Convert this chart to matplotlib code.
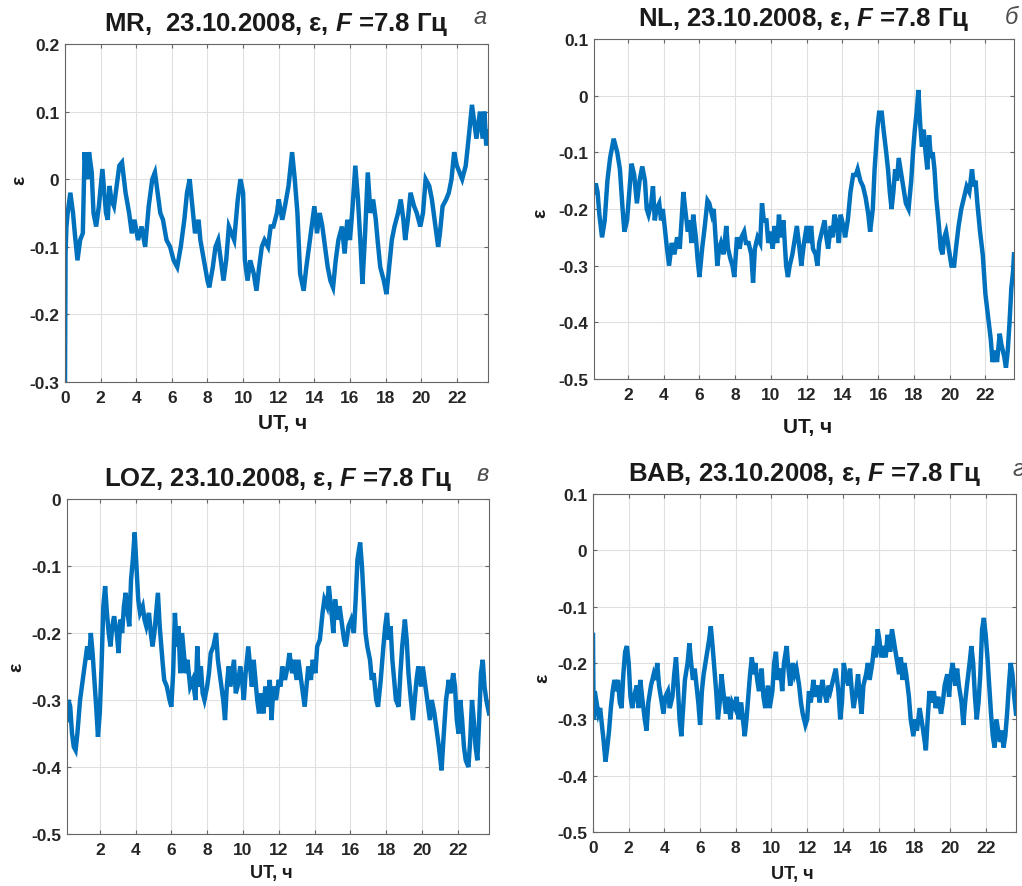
import matplotlib
matplotlib.use("Agg")
import matplotlib.pyplot as plt

plt.rcParams['font.family'] = ['Liberation Sans', 'DejaVu Sans']
plt.rcParams['font.weight'] = 'bold'
plt.rcParams['axes.unicode_minus'] = False
plt.rcParams['mathtext.fontset'] = 'custom'
plt.rcParams['mathtext.it'] = 'Liberation Sans:italic:bold'
plt.rcParams['mathtext.rm'] = 'Liberation Sans:bold'

# MR
mr_t = [0, 0.03, 0.08, 0.15, 0.3, 0.45, 0.55, 0.7, 0.85, 1.0,
        1.1, 1.15, 1.25, 1.35, 1.5, 1.6, 1.75, 1.9, 2.1, 2.3,
        2.4, 2.5, 2.6, 2.75, 2.9, 3.05, 3.2, 3.4, 3.6, 3.75,
        3.9, 4.1, 4.3, 4.5, 4.7, 4.9, 5.05, 5.2, 5.35, 5.5,
        5.7, 5.9, 6.1, 6.3, 6.5, 6.7, 6.85, 7.0, 7.15, 7.3,
        7.5, 7.6, 7.8, 8.0, 8.1, 8.3, 8.45, 8.6, 8.75, 8.9,
        9.05, 9.2, 9.35, 9.5, 9.7, 9.85, 10.0, 10.1, 10.25, 10.4,
        10.6, 10.75, 10.9, 11.05, 11.2, 11.4, 11.55, 11.7, 11.9, 12.0,
        12.2, 12.35, 12.55, 12.75, 12.9, 13.05, 13.2, 13.4, 13.55, 13.75,
        13.9, 14.0, 14.15, 14.3, 14.45, 14.6, 14.75, 14.9, 15.05, 15.2,
        15.35, 15.55, 15.7, 15.85, 16.0, 16.15, 16.3, 16.45, 16.6, 16.7,
        16.85, 17.0, 17.15, 17.3, 17.45, 17.55, 17.7, 17.9, 18.05, 18.2,
        18.35, 18.5, 18.7, 18.85, 19.0, 19.1, 19.25, 19.4, 19.6, 19.75,
        19.95, 20.1, 20.25, 20.45, 20.6, 20.75, 20.95, 21.05, 21.2, 21.4,
        21.55, 21.7, 21.85, 22.0, 22.15, 22.3, 22.5, 22.7, 22.85, 23.0,
        23.1, 23.3, 23.45, 23.55, 23.65, 23.75]
mr_v = [-0.30, -0.11, -0.07, -0.05, -0.02, -0.05, -0.08, -0.12, -0.09, -0.08,
        0.04, 0.02, 0.0, 0.04, 0.01, -0.05, -0.07, -0.04, 0.015, -0.05,
        -0.06, -0.01, -0.03, -0.04, -0.01, 0.02, 0.025, -0.02, -0.05, -0.08,
        -0.06, -0.09, -0.07, -0.10, -0.04, 0.0, 0.01, -0.02, -0.05, -0.06,
        -0.09, -0.10, -0.12, -0.13, -0.10, -0.06, -0.02, 0.0, -0.04, -0.08,
        -0.06, -0.09, -0.12, -0.15, -0.16, -0.13, -0.10, -0.09, -0.12, -0.15,
        -0.12, -0.07, -0.08, -0.09, -0.03, 0.0, -0.02, -0.12, -0.15, -0.12,
        -0.14, -0.165, -0.13, -0.10, -0.09, -0.10, -0.07, -0.07, -0.05, -0.03,
        -0.06, -0.04, -0.01, 0.04, 0.0, -0.05, -0.14, -0.165, -0.13, -0.09,
        -0.06, -0.04, -0.08, -0.05, -0.07, -0.10, -0.13, -0.15, -0.16, -0.12,
        -0.09, -0.07, -0.11, -0.06, -0.09, -0.04, 0.02, -0.03, -0.10, -0.155,
        -0.08, 0.01, -0.05, -0.03, -0.06, -0.09, -0.13, -0.15, -0.17, -0.13,
        -0.09, -0.07, -0.05, -0.03, -0.06, -0.09, -0.06, -0.02, -0.04, -0.05,
        -0.07, -0.05, 0.0, -0.01, -0.03, -0.06, -0.10, -0.08, -0.04, -0.03,
        -0.02, 0.0, 0.04, 0.02, 0.01, 0.0, 0.02, 0.07, 0.11, 0.08,
        0.06, 0.10, 0.06, 0.10, 0.05, 0.07]

# NL
nl_t = [0.1, 0.2, 0.3, 0.4, 0.55, 0.7, 0.85, 1.0, 1.2, 1.4,
        1.55, 1.7, 1.8, 1.95, 2.2, 2.35, 2.5, 2.65, 2.8, 2.95,
        3.05, 3.15, 3.3, 3.4, 3.5, 3.6, 3.75, 3.85, 3.95, 4.05,
        4.15, 4.3, 4.45, 4.6, 4.75, 4.9, 5.1, 5.2, 5.35, 5.45,
        5.55, 5.65, 5.8, 5.9, 6.0, 6.15, 6.3, 6.45, 6.55, 6.7,
        6.8, 6.9, 7.0, 7.1, 7.2, 7.35, 7.5, 7.6, 7.75, 7.85,
        7.95, 8.1, 8.25, 8.35, 8.5, 8.6, 8.75, 8.9, 9.0, 9.1,
        9.25, 9.4, 9.5, 9.6, 9.75, 9.85, 9.95, 10.1, 10.2, 10.35,
        10.45, 10.55, 10.7, 10.85, 10.95, 11.05, 11.2, 11.35, 11.45, 11.6,
        11.7, 11.85, 12.0, 12.1, 12.25, 12.35, 12.5, 12.6, 12.7, 12.85,
        13.0, 13.1, 13.2, 13.35, 13.45, 13.55, 13.65, 13.8, 13.9, 14.05,
        14.15, 14.3, 14.45, 14.6, 14.75, 14.85, 15.0, 15.15, 15.3, 15.45,
        15.55, 15.7, 15.8, 15.95, 16.05, 16.2, 16.3, 16.45, 16.55, 16.65,
        16.75, 16.85, 16.95, 17.05, 17.15, 17.3, 17.4, 17.55, 17.7, 17.85,
        17.95, 18.05, 18.15, 18.25, 18.35, 18.45, 18.55, 18.65, 18.75, 18.85,
        18.95, 19.05, 19.15, 19.25, 19.4, 19.5, 19.6, 19.7, 19.8, 19.95,
        20.1, 20.25, 20.35, 20.5, 20.65, 20.8, 20.95, 21.1, 21.25, 21.35,
        21.45, 21.55, 21.7, 21.85, 22.0, 22.15, 22.3, 22.4, 22.55, 22.65,
        22.8, 22.9, 23.05, 23.15, 23.25, 23.35, 23.45, 23.55, 23.6]
nl_v = [-0.17, -0.155, -0.17, -0.21, -0.25, -0.22, -0.15, -0.11, -0.076, -0.10,
        -0.13, -0.20, -0.24, -0.22, -0.12, -0.14, -0.19, -0.15, -0.125, -0.15,
        -0.20, -0.21, -0.19, -0.16, -0.22, -0.20, -0.19, -0.22, -0.20, -0.23,
        -0.26, -0.30, -0.26, -0.28, -0.25, -0.27, -0.17, -0.20, -0.24, -0.22,
        -0.26, -0.21, -0.25, -0.29, -0.32, -0.27, -0.23, -0.185, -0.19, -0.21,
        -0.20, -0.25, -0.30, -0.27, -0.26, -0.28, -0.23, -0.27, -0.29, -0.30,
        -0.32, -0.25, -0.27, -0.25, -0.24, -0.26, -0.26, -0.28, -0.33, -0.27,
        -0.25, -0.26, -0.19, -0.22, -0.22, -0.26, -0.24, -0.27, -0.23, -0.26,
        -0.21, -0.25, -0.22, -0.30, -0.32, -0.30, -0.28, -0.25, -0.23, -0.27,
        -0.30, -0.26, -0.23, -0.26, -0.23, -0.27, -0.28, -0.30, -0.26, -0.24,
        -0.22, -0.25, -0.27, -0.23, -0.25, -0.21, -0.22, -0.26, -0.21, -0.23,
        -0.25, -0.22, -0.17, -0.14, -0.14, -0.13, -0.15, -0.16, -0.18, -0.21,
        -0.24, -0.20, -0.13, -0.06, -0.03, -0.03, -0.06, -0.10, -0.13, -0.17,
        -0.20, -0.17, -0.13, -0.15, -0.11, -0.14, -0.16, -0.19, -0.20, -0.15,
        -0.10, -0.06, -0.03, 0.01, -0.05, -0.09, -0.06, -0.10, -0.13, -0.07,
        -0.11, -0.10, -0.13, -0.18, -0.23, -0.27, -0.28, -0.25, -0.24, -0.27,
        -0.30, -0.30, -0.27, -0.23, -0.20, -0.18, -0.16, -0.17, -0.13, -0.16,
        -0.15, -0.19, -0.24, -0.28, -0.35, -0.39, -0.43, -0.47, -0.45, -0.47,
        -0.42, -0.44, -0.46, -0.48, -0.45, -0.40, -0.34, -0.31, -0.28]

# LOZ
loz_t = [0.17, 0.25, 0.35, 0.45, 0.55, 0.65, 0.75, 0.9, 1.05, 1.2,
         1.3, 1.4, 1.5, 1.6, 1.7, 1.8, 1.9, 2.0, 2.1, 2.2,
         2.3, 2.4, 2.5, 2.6, 2.7, 2.8, 2.95, 3.05, 3.15, 3.25,
         3.35, 3.45, 3.55, 3.65, 3.75, 3.85, 3.95, 4.05, 4.15, 4.25,
         4.4, 4.5, 4.6, 4.75, 4.85, 4.95, 5.05, 5.15, 5.25, 5.35,
         5.5, 5.6, 5.75, 5.9, 6.0, 6.1, 6.2, 6.3, 6.4, 6.5,
         6.6, 6.7, 6.8, 6.9, 7.05, 7.2, 7.35, 7.45, 7.55, 7.65,
         7.75, 7.85, 8.0, 8.1, 8.2, 8.35, 8.5, 8.6, 8.7, 8.8,
         8.9, 9.0, 9.1, 9.2, 9.3, 9.4, 9.5, 9.6, 9.7, 9.85,
         9.95, 10.05, 10.15, 10.3, 10.4, 10.5, 10.6, 10.7, 10.8, 10.9,
         11.0, 11.15, 11.25, 11.35, 11.5, 11.6, 11.7, 11.85, 12.0, 12.1,
         12.2, 12.35, 12.5, 12.6, 12.75, 12.85, 13.0, 13.1, 13.2, 13.35,
         13.45, 13.55, 13.65, 13.8, 13.9, 14.05, 14.15, 14.3, 14.45, 14.55,
         14.7, 14.8, 14.95, 15.05, 15.15, 15.3, 15.4, 15.55, 15.65, 15.75,
         15.9, 16.05, 16.2, 16.3, 16.4, 16.55, 16.65, 16.75, 16.85, 16.95,
         17.1, 17.2, 17.3, 17.45, 17.55, 17.7, 17.85, 17.95, 18.05, 18.15,
         18.25, 18.35, 18.45, 18.55, 18.7, 18.8, 18.9, 19.05, 19.15, 19.25,
         19.35, 19.5, 19.6, 19.7, 19.8, 19.95, 20.05, 20.15, 20.3, 20.45,
         20.55, 20.7, 20.8, 20.95, 21.1, 21.2, 21.35, 21.5, 21.6, 21.75,
         21.85, 21.95, 22.05, 22.15, 22.25, 22.35, 22.45, 22.6, 22.7, 22.8,
         22.9, 23.0, 23.1, 23.2, 23.3, 23.4, 23.5, 23.6, 23.75]
loz_v = [-0.33, -0.30, -0.31, -0.35, -0.37, -0.375, -0.35, -0.30, -0.27, -0.24,
         -0.22, -0.24, -0.20, -0.23, -0.27, -0.31, -0.355, -0.32, -0.25, -0.16,
         -0.13, -0.17, -0.20, -0.22, -0.19, -0.175, -0.20, -0.23, -0.18, -0.20,
         -0.16, -0.14, -0.17, -0.19, -0.12, -0.09, -0.05, -0.10, -0.15, -0.17,
         -0.16, -0.18, -0.19, -0.17, -0.20, -0.22, -0.20, -0.17, -0.14, -0.19,
         -0.24, -0.27, -0.28, -0.30, -0.31, -0.26, -0.17, -0.22, -0.19, -0.26,
         -0.20, -0.23, -0.26, -0.24, -0.28, -0.27, -0.30, -0.22, -0.28, -0.25,
         -0.29, -0.30, -0.28, -0.26, -0.23, -0.22, -0.20, -0.24, -0.26, -0.28,
         -0.30, -0.33, -0.28, -0.25, -0.28, -0.26, -0.24, -0.29, -0.28, -0.25,
         -0.27, -0.30, -0.26, -0.22, -0.25, -0.28, -0.24, -0.27, -0.30, -0.32,
         -0.29, -0.32, -0.28, -0.31, -0.27, -0.33, -0.28, -0.30, -0.27, -0.28,
         -0.25, -0.27, -0.25, -0.23, -0.26, -0.24, -0.27, -0.24, -0.26, -0.29,
         -0.31, -0.28, -0.25, -0.27, -0.24, -0.26, -0.22, -0.21, -0.17, -0.15,
         -0.16, -0.13, -0.17, -0.20, -0.15, -0.18, -0.16, -0.19, -0.21, -0.22,
         -0.19, -0.18, -0.20, -0.15, -0.09, -0.065, -0.10, -0.15, -0.20, -0.22,
         -0.24, -0.27, -0.26, -0.30, -0.31, -0.27, -0.22, -0.19, -0.17, -0.21,
         -0.19, -0.24, -0.27, -0.30, -0.31, -0.26, -0.22, -0.18, -0.21, -0.26,
         -0.29, -0.33, -0.30, -0.27, -0.25, -0.28, -0.25, -0.27, -0.30, -0.33,
         -0.30, -0.32, -0.34, -0.37, -0.405, -0.36, -0.30, -0.27, -0.29, -0.26,
         -0.28, -0.33, -0.35, -0.30, -0.33, -0.37, -0.39, -0.40, -0.36, -0.30,
         -0.33, -0.37, -0.39, -0.33, -0.26, -0.24, -0.28, -0.30, -0.32]

# BAB
bab_t = [0.0, 0.02, 0.05, 0.1, 0.2, 0.3, 0.4, 0.5, 0.6, 0.7,
         0.8, 0.9, 1.0, 1.1, 1.2, 1.3, 1.4, 1.5, 1.6, 1.7,
         1.8, 1.9, 2.0, 2.1, 2.2, 2.3, 2.45, 2.55, 2.65, 2.75,
         2.9, 3.0, 3.1, 3.25, 3.4, 3.5, 3.6, 3.7, 3.85, 3.95,
         4.05, 4.2, 4.3, 4.45, 4.55, 4.65, 4.75, 4.85, 4.95, 5.05,
         5.15, 5.3, 5.4, 5.5, 5.6, 5.7, 5.8, 5.9, 6.0, 6.1,
         6.2, 6.35, 6.5, 6.6, 6.7, 6.8, 6.9, 7.0, 7.1, 7.2,
         7.3, 7.45, 7.55, 7.7, 7.8, 7.95, 8.05, 8.15, 8.3, 8.4,
         8.5, 8.6, 8.7, 8.8, 8.9, 9.0, 9.1, 9.2, 9.3, 9.45,
         9.55, 9.65, 9.8, 9.9, 10.05, 10.15, 10.25, 10.35, 10.5, 10.6,
         10.7, 10.85, 10.95, 11.05, 11.2, 11.3, 11.4, 11.55, 11.65, 11.75,
         11.9, 12.0, 12.1, 12.2, 12.35, 12.45, 12.6, 12.7, 12.85, 12.95,
         13.1, 13.2, 13.3, 13.45, 13.6, 13.75, 13.85, 13.95, 14.05, 14.15,
         14.3, 14.4, 14.5, 14.6, 14.75, 14.85, 14.95, 15.05, 15.15, 15.3,
         15.4, 15.5, 15.65, 15.75, 15.85, 15.95, 16.05, 16.15, 16.3, 16.4,
         16.5, 16.65, 16.75, 16.85, 16.95, 17.05, 17.15, 17.25, 17.35, 17.45,
         17.55, 17.7, 17.8, 17.95, 18.05, 18.15, 18.3, 18.4, 18.5, 18.65,
         18.75, 18.85, 19.0, 19.1, 19.2, 19.35, 19.5, 19.6, 19.7, 19.85,
         19.95, 20.05, 20.15, 20.3, 20.4, 20.5, 20.65, 20.75, 20.85, 20.95,
         21.1, 21.2, 21.3, 21.4, 21.5, 21.6, 21.7, 21.8, 21.9, 22.0,
         22.1, 22.2, 22.3, 22.4, 22.5, 22.6, 22.7, 22.8, 22.9, 23.0,
         23.1, 23.2, 23.3, 23.4, 23.5, 23.6, 23.7]
bab_v = [-0.15, -0.24, -0.30, -0.25, -0.27, -0.29, -0.28, -0.31, -0.34, -0.375,
         -0.35, -0.32, -0.28, -0.25, -0.23, -0.25, -0.23, -0.27, -0.28, -0.22,
         -0.18, -0.17, -0.20, -0.26, -0.28, -0.26, -0.24, -0.28, -0.23, -0.26,
         -0.30, -0.32, -0.27, -0.24, -0.22, -0.23, -0.20, -0.24, -0.27, -0.29,
         -0.26, -0.25, -0.28, -0.26, -0.22, -0.19, -0.24, -0.30, -0.33, -0.28,
         -0.23, -0.20, -0.165, -0.20, -0.23, -0.21, -0.24, -0.27, -0.31, -0.25,
         -0.22, -0.19, -0.16, -0.135, -0.17, -0.21, -0.25, -0.30, -0.27, -0.22,
         -0.25, -0.29, -0.26, -0.30, -0.27, -0.28, -0.26, -0.30, -0.27, -0.30,
         -0.33, -0.30, -0.26, -0.22, -0.19, -0.22, -0.20, -0.23, -0.25, -0.21,
         -0.26, -0.28, -0.24, -0.28, -0.25, -0.20, -0.18, -0.23, -0.21, -0.25,
         -0.20, -0.17, -0.21, -0.24, -0.20, -0.22, -0.21, -0.24, -0.27, -0.29,
         -0.31, -0.30, -0.25, -0.27, -0.23, -0.26, -0.24, -0.27, -0.23, -0.25,
         -0.27, -0.24, -0.25, -0.23, -0.21, -0.25, -0.30, -0.27, -0.20, -0.22,
         -0.24, -0.21, -0.25, -0.28, -0.25, -0.22, -0.26, -0.29, -0.24, -0.22,
         -0.20, -0.23, -0.20, -0.17, -0.19, -0.14, -0.16, -0.19, -0.17, -0.19,
         -0.15, -0.18, -0.14, -0.16, -0.18, -0.20, -0.22, -0.19, -0.23, -0.20,
         -0.22, -0.26, -0.30, -0.33, -0.30, -0.32, -0.28, -0.30, -0.32, -0.355,
         -0.30, -0.25, -0.27, -0.25, -0.28, -0.26, -0.29, -0.27, -0.24, -0.22,
         -0.26, -0.22, -0.20, -0.24, -0.21, -0.24, -0.27, -0.31, -0.27, -0.24,
         -0.20, -0.17, -0.20, -0.26, -0.30, -0.27, -0.22, -0.14, -0.12, -0.15,
         -0.19, -0.24, -0.29, -0.33, -0.35, -0.30, -0.32, -0.34, -0.32, -0.35,
         -0.33, -0.29, -0.24, -0.20, -0.22, -0.26, -0.29]

stations = ['MR', 'NL', 'LOZ', 'BAB']
letters = ['а', 'б', 'в', 'г']
series = [(mr_t, mr_v), (nl_t, nl_v), (loz_t, loz_v), (bab_t, bab_v)]
ylims = [(-0.3, 0.2), (-0.5, 0.1), (-0.5, 0.0), (-0.5, 0.1)]
xlims = [(0, 23.75), (0.1, 23.6), (0.17, 23.75), (0, 23.7)]
xticks = [list(range(0, 23, 2)), list(range(2, 23, 2)),
          list(range(2, 23, 2)), list(range(0, 23, 2))]

W, H = 1022, 887
# axes boxes in pixels: left, top, right, bottom
boxes = [(65, 45, 488, 383), (594, 40, 1014, 380),
         (67, 500, 489, 835), (593, 495, 1016, 833)]
letter_pos = [(480, 18), (1011, 17), (483, 475), (1018, 470)]
ylab_pos = [(20, 180), (541, 213), (17, 667), (543, 678)]
xlab_pos = [(283, 423), (808, 428), (271, 874), (792, 875)]
xlab_size = [15, 15, 13, 13]

fig = plt.figure(figsize=(W / 100, H / 100), dpi=100)

for i in range(4):
    l, t, r, b = boxes[i]
    ax = fig.add_axes([l / W, 1 - b / H, (r - l) / W, (b - t) / H])
    x, y = series[i]
    ax.plot(x, y, color='#0072BD', lw=3.2, solid_joinstyle='miter')
    ax.set_xlim(*xlims[i])
    ax.set_ylim(*ylims[i])
    ax.set_xticks(xticks[i])
    yt = [round(ylims[i][0] + 0.1 * k, 1) for k in range(int(round((ylims[i][1] - ylims[i][0]) / 0.1)) + 1)]
    ax.set_yticks(yt)
    ax.set_yticklabels(['%g' % v for v in yt])
    ax.grid(True, color='0.88', lw=0.8)
    ax.set_axisbelow(True)
    for s in ax.spines.values():
        s.set_color('0.4')
        s.set_linewidth(0.8)
    ax.tick_params(direction='in', length=3, color='0.4', labelsize=12.5,
                   labelcolor='0.15', top=True, right=True,
                   labeltop=False, labelright=False)
    ax.tick_params(axis='x', pad=6)
    ax.tick_params(axis='y', pad=4)
    ax.set_title(stations[i] + (',  ' if i == 0 else ', ') + '23.10.2008, ε, $\\mathit{F}$ =7.8 Гц',
                 fontsize=18.5, fontweight='bold', pad=10, color='0.1')
    fig.text(letter_pos[i][0] / W, 1 - letter_pos[i][1] / H, letters[i],
             fontsize=17, style='italic', fontweight='normal', color='0.3',
             ha='center', va='center')
    fig.text(ylab_pos[i][0] / W, 1 - ylab_pos[i][1] / H, 'ε', rotation=90,
             fontsize=14, fontweight='bold', ha='center', va='center', color='0.1')
    fig.text(xlab_pos[i][0] / W, 1 - xlab_pos[i][1] / H, 'UT, ч',
             fontsize=xlab_size[i], fontweight='bold', ha='center', va='center', color='0.1')

fig.savefig('out.png', dpi=100)
